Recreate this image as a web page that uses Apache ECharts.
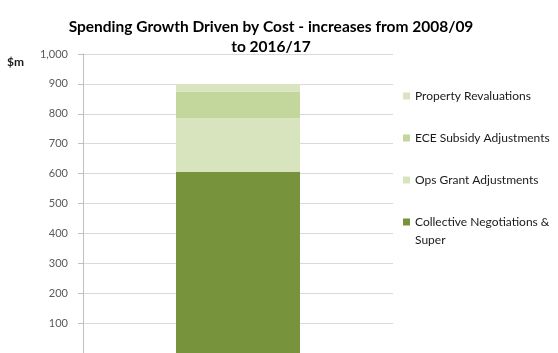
<!DOCTYPE html>
<html>
<head>
<meta charset="utf-8">
<title>Spending Growth Driven by Cost</title>
<script src="https://cdn.jsdelivr.net/npm/echarts@6/dist/echarts.min.js"></script>
<style>
  html, body { margin: 0; padding: 0; background: #ffffff; }
  #chart { width: 558px; height: 353px; }
</style>
</head>
<body>
<div id="chart"></div>
<script>
// Cost components of spending growth, $m
const categories = ['2008/09 to 2016/17'];
const collectiveNegotiations = [605];
const opsGrantAdjustments = [180];
const eceSubsidyAdjustments = [90];
const propertyRevaluations = [25];
const yTicks = [0, 100, 200, 300, 400, 500, 600, 700, 800, 900, 1000];

const FONT = 'Lato, "Open Sans", sans-serif';

const chart = echarts.init(document.getElementById('chart'), null, { renderer: 'canvas' });

const seriesDefs = [
  { name: 'Collective Negotiations & Super', data: collectiveNegotiations, color: '#77933C' },
  { name: 'Ops Grant Adjustments', data: opsGrantAdjustments, color: '#D7E4BD' },
  { name: 'ECE Subsidy Adjustments', data: eceSubsidyAdjustments, color: '#C3D69B' },
  { name: 'Property Revaluations', data: propertyRevaluations, color: '#D9E5C1' }
];

chart.setOption({
  animation: false,
  backgroundColor: '#ffffff',
  title: {
    text: 'Spending Growth Driven by Cost - increases from 2008/09\nto 2016/17',
    left: 266,
    top: 12,
    textAlign: 'center',
    textStyle: {
      fontFamily: FONT,
      fontWeight: 'bold',
      fontSize: 15.5,
      lineHeight: 20,
      color: '#000000'
    }
  },
  legend: {
    orient: 'vertical',
    left: 398,
    top: 85,
    itemWidth: 7,
    itemHeight: 7,
    itemGap: 30,
    icon: 'rect',
    // top of the stack listed first
    data: ['Property Revaluations', 'ECE Subsidy Adjustments', 'Ops Grant Adjustments', 'Collective Negotiations & Super'],
    formatter: function (name) {
      return name === 'Collective Negotiations & Super' ? 'Collective Negotiations &' : name;
    },
    textStyle: {
      fontFamily: FONT,
      fontSize: 12,
      color: '#1a1a1a'
    }
  },
  graphic: [
    {
      type: 'text',
      left: 7,
      top: 56,
      style: { text: '$m', fontFamily: FONT, fontSize: 12, fontWeight: 'bold', fill: '#1a1a1a' }
    },
    {
      type: 'text',
      left: 415,
      top: 234,
      style: { text: 'Super', fontFamily: FONT, fontSize: 12, fill: '#1a1a1a' }
    }
  ],
  grid: {
    left: 83,
    top: 54,
    width: 310,
    height: 302,
    containLabel: false
  },
  xAxis: {
    type: 'category',
    data: categories,
    axisLine: { show: true, lineStyle: { color: '#bfbfbf' } },
    axisTick: { show: false },
    axisLabel: { show: false }
  },
  yAxis: {
    type: 'value',
    min: yTicks[0],
    max: yTicks[yTicks.length - 1],
    interval: yTicks[1] - yTicks[0],
    axisLine: { show: true, lineStyle: { color: '#bfbfbf' } },
    axisTick: { show: true, length: 5, lineStyle: { color: '#bfbfbf' } },
    axisLabel: {
      margin: 15,
      fontFamily: FONT,
      fontSize: 11,
      color: '#595959',
      formatter: function (v) { return v === 0 ? '' : v.toLocaleString('en-US'); }
    },
    splitLine: { show: true, lineStyle: { color: '#d9d9d9', width: 1 } }
  },
  series: seriesDefs.map(function (s) {
    return {
      name: s.name,
      type: 'bar',
      stack: 'cost',
      barWidth: '40%',
      data: s.data,
      itemStyle: { color: s.color },
      emphasis: { disabled: true }
    };
  })
});
</script>
</body>
</html>
